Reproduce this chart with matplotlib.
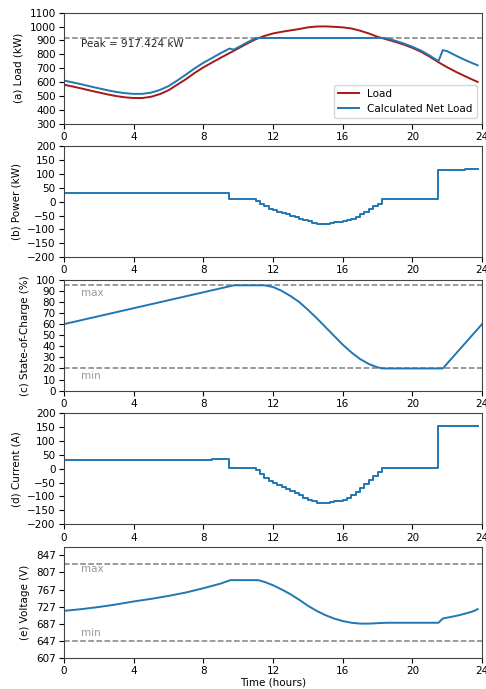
import numpy as np
import matplotlib
matplotlib.use("Agg")
import matplotlib.pyplot as plt

plt.rcParams["font.size"] = 7.5

# ---- data ----
peak = 917.424

load_t = [0, 0.5, 1, 1.5, 2, 2.5, 3, 3.5, 4, 4.5, 5, 5.5, 6, 6.5, 7, 7.5, 8, 8.5,
          9, 9.5, 10, 10.5, 11, 11.5, 12, 12.5, 13, 13.5, 14, 14.5, 15, 15.5, 16,
          16.5, 17, 17.5, 18, 18.5, 19, 19.5, 20, 20.5, 21, 21.5, 22, 22.5, 23,
          23.5, 23.75]
load_v = [580, 567, 553, 538, 524, 510, 498, 489, 484, 484, 493, 512, 540, 580,
          620, 665, 705, 740, 775, 808, 842, 876, 908, 932, 950, 962, 972, 982,
          994, 1000, 1001, 998, 994, 986, 970, 950, 926, 908, 890, 870, 846, 818,
          782, 742, 706, 673, 643, 614, 600]

net_t = [0, 0.5, 1, 1.5, 2, 2.5, 3, 3.5, 4, 4.5, 5, 5.5, 6, 6.5, 7, 7.5, 8, 8.5,
         9, 9.5, 9.75, 10, 10.5, 11, 11.25, 18.25, 18.5, 19, 19.5, 20, 20.5, 21,
         21.5, 21.75, 22, 22.5, 23, 23.5, 23.75]
net_v = [610, 597, 583, 568, 554, 540, 528, 519, 514, 514, 523, 542, 570, 610,
         653, 698, 738, 773, 808, 841, 833, 850, 884, 916, peak, peak, 916, 898,
         878, 854, 826, 790, 750, 830, 822, 790, 760, 733, 720]

power_t = [0, 7, 9.5, 11.0, 11.25, 11.5, 11.75, 12.0, 12.25, 12.5, 12.75, 13.0,
           13.25, 13.5, 13.75, 14.0, 14.25, 14.5, 14.75, 15.0, 15.25, 15.5, 15.75,
           16.0, 16.25, 16.5, 16.75, 17.0, 17.25, 17.5, 17.75, 18.0, 18.25, 21.5,
           23.0, 23.75]
power_v = [30, 33, 8, 3, -7, -17, -25, -31, -36, -41, -46, -51, -56, -61, -66,
           -71, -76, -80, -80, -80, -78, -75, -72, -70, -66, -61, -54, -45, -36,
           -27, -17, -7, 9, 116, 119, 119]

soc_t = [0, 9.75, 11.5, 12, 12.5, 13, 13.5, 14, 14.5, 15, 15.5, 16, 16.5, 17,
         17.5, 18, 18.3, 21.75, 24]
soc_v = [60, 95, 95, 93.5, 90, 85.4, 80, 73, 65.5, 57.5, 49.5, 41.5, 34.5, 28.5,
         24, 21, 20, 20, 60]
soc_max, soc_min = 95, 20

cur_t = [0, 8.5, 9.5, 11.0, 11.25, 11.5, 11.75, 12.0, 12.25, 12.5, 12.75, 13.0,
         13.25, 13.5, 13.75, 14.0, 14.25, 14.5, 14.75, 15.0, 15.25, 15.5, 15.75,
         16.0, 16.25, 16.5, 16.75, 17.0, 17.25, 17.5, 17.75, 18.0, 18.25, 21.5,
         23.75]
cur_v = [32, 35, 2, -6, -20, -33, -44, -52, -58, -66, -73, -80, -88, -96, -104,
         -111, -118, -122, -123, -123, -120, -117, -115, -111, -104, -95, -84,
         -70, -55, -40, -25, -10, 2, 153, 153]

volt_t = [0, 1, 2, 3, 4, 5, 6, 7, 8, 9, 9.55, 11.15, 11.5, 12, 12.5, 13, 13.5,
          14, 14.5, 15, 15.5, 16, 16.5, 17, 17.5, 18, 18.5, 21.5, 21.75, 22,
          22.5, 23, 23.5, 23.75]
volt_v = [717, 721, 726, 732, 739, 745, 752, 760, 770, 781, 789, 789, 785, 777,
          767, 756, 743, 729, 717, 707, 699, 693, 689, 687, 687, 688, 689, 689,
          699, 701, 705, 710, 716, 721]
volt_max, volt_min = 827, 647

blue = "#1f77b4"
red = "#a81818"

fig, axes = plt.subplots(5, 1, figsize=(4.86, 6.89), dpi=100)
fig.subplots_adjust(left=0.1317, right=0.9918, top=0.9816, bottom=0.0454,
                    hspace=0.205)
xticks = np.arange(0, 25, 4)

# (a) load vs net load
ax = axes[0]
ax.axhline(peak, color="gray", ls="--", lw=1.1)
ax.plot(load_t, load_v, color=red, lw=1.4, label="Load")
ax.plot(net_t, net_v, color=blue, lw=1.4, label="Calculated Net Load")
ax.text(1, 873, f"Peak = {peak} kW", va="center", color="#222222")
ax.set_ylim(300, 1100)
ax.set_yticks(np.arange(300, 1101, 100))
ax.set_ylabel("(a) Load (kW)")
ax.legend(loc="lower right")

# (b) power
ax = axes[1]
ax.plot(power_t, power_v, color=blue, lw=1.4, drawstyle="steps-post")
ax.set_ylim(-200, 200)
ax.set_yticks(np.arange(-200, 201, 50))
ax.set_ylabel("(b) Power (kW)")

# (c) state of charge
ax = axes[2]
ax.axhline(soc_max, color="gray", ls="--", lw=1.1)
ax.axhline(soc_min, color="gray", ls="--", lw=1.1)
ax.plot(soc_t, soc_v, color=blue, lw=1.4)
ax.text(1, soc_max - 7, "max", va="center", color="#999999")
ax.text(1, soc_min - 7, "min", va="center", color="#999999")
ax.set_ylim(0, 100)
ax.set_yticks(np.arange(0, 101, 10))
ax.set_ylabel("(c) State-of-Charge (%)")

# (d) current
ax = axes[3]
ax.plot(cur_t, cur_v, color=blue, lw=1.4, drawstyle="steps-post")
ax.set_ylim(-200, 200)
ax.set_yticks(np.arange(-200, 201, 50))
ax.set_ylabel("(d) Current (A)")

# (e) voltage
ax = axes[4]
ax.axhline(volt_max, color="gray", ls="--", lw=1.1)
ax.axhline(volt_min, color="gray", ls="--", lw=1.1)
ax.plot(volt_t, volt_v, color=blue, lw=1.4)
ax.text(1, volt_max - 13, "max", va="center", color="#999999")
ax.text(1, volt_min + 19, "min", va="center", color="#999999")
ax.set_ylim(607, 867)
ax.set_yticks(np.arange(607, 848, 40))
ax.set_ylabel("(e) Voltage (V)")
ax.set_xlabel("Time (hours)", labelpad=1)

for ax in axes:
    ax.set_xlim(0, 24)
    ax.set_xticks(xticks)
    ax.tick_params(pad=2.5)
    for s in ax.spines.values():
        s.set_color("#444444")

fig.savefig("out.png", dpi=100)
